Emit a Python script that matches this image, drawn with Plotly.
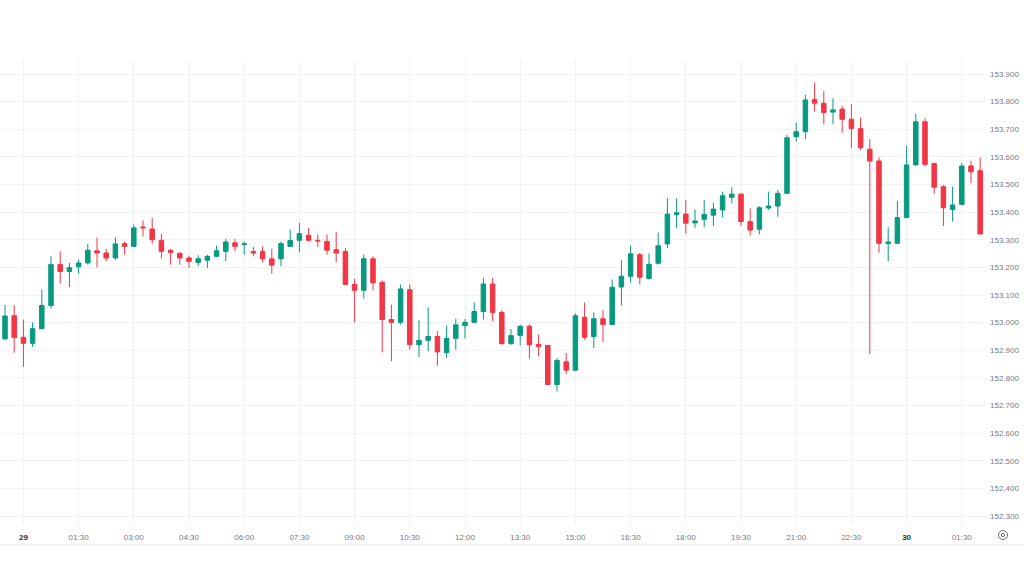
import pandas as pd
import plotly.graph_objects as go

# ---- data (15-minute candles, USD/JPY-like) ----
start_time = "2024-10-28 23:30"
bar_minutes = 15

opens = [152.941, 153.025, 152.947, 152.925, 152.978, 153.062, 153.210, 153.185, 153.202, 153.216,
         153.260, 153.252, 153.234, 153.286, 153.276, 153.346, 153.339, 153.298, 153.262, 153.251,
         153.234, 153.218, 153.226, 153.240, 153.258, 153.289, 153.283, 153.257, 153.257, 153.231,
         153.231, 153.276, 153.298, 153.316, 153.298, 153.294, 153.264, 153.258, 153.138, 153.117,
         153.231, 153.146, 153.011, 153.001, 153.119, 152.920, 152.936, 152.950, 152.892, 152.943,
         152.989, 153.001, 153.040, 153.140, 153.037, 152.924, 152.954, 152.987, 152.921, 152.917,
         152.776, 152.858, 152.828, 153.019, 152.950, 153.014, 152.993, 153.129, 153.168, 153.246,
         153.160, 153.215, 153.285, 153.391, 153.393, 153.361, 153.374, 153.389, 153.408, 153.454,
         153.465, 153.366, 153.338, 153.415, 153.422, 153.468, 153.673, 153.691, 153.808, 153.794,
         153.762, 153.773, 153.736, 153.703, 153.628, 153.585, 153.286, 153.287, 153.380, 153.571,
         153.727, 153.576, 153.492, 153.410, 153.428, 153.567, 153.550]
highs = [153.064, 153.063, 153.011, 153.001, 153.119, 153.240, 153.258, 153.216, 153.228, 153.285,
         153.307, 153.267, 153.309, 153.294, 153.355, 153.370, 153.379, 153.321, 153.267, 153.254,
         153.243, 153.244, 153.246, 153.279, 153.303, 153.303, 153.294, 153.274, 153.276, 153.268,
         153.294, 153.337, 153.361, 153.343, 153.319, 153.319, 153.328, 153.270, 153.159, 153.246,
         153.240, 153.153, 153.065, 153.138, 153.138, 153.008, 153.055, 152.969, 152.989, 153.014,
         153.013, 153.073, 153.162, 153.162, 153.045, 152.977, 152.992, 152.993, 152.957, 152.920,
         152.872, 152.890, 153.033, 153.073, 153.037, 153.045, 153.156, 153.226, 153.279, 153.252,
         153.250, 153.326, 153.450, 153.450, 153.444, 153.410, 153.444, 153.434, 153.474, 153.490,
         153.468, 153.414, 153.422, 153.474, 153.480, 153.679, 153.724, 153.824, 153.869, 153.838,
         153.812, 153.784, 153.790, 153.743, 153.664, 153.598, 153.345, 153.441, 153.640, 153.755,
         153.740, 153.578, 153.498, 153.492, 153.577, 153.586, 153.598]
lows = [152.938, 152.891, 152.840, 152.912, 152.976, 153.051, 153.141, 153.129, 153.177, 153.210,
        153.200, 153.222, 153.228, 153.246, 153.274, 153.312, 153.285, 153.231, 153.210, 153.210,
        153.198, 153.204, 153.198, 153.238, 153.222, 153.258, 153.246, 153.240, 153.218, 153.177,
        153.204, 153.274, 153.254, 153.294, 153.274, 153.246, 153.219, 153.136, 153.001, 153.086,
        153.117, 152.892, 152.860, 152.993, 152.902, 152.876, 152.896, 152.844, 152.872, 152.902,
        152.943, 153.000, 153.011, 153.005, 152.920, 152.920, 152.917, 152.869, 152.878, 152.776,
        152.751, 152.813, 152.826, 152.938, 152.908, 152.929, 152.991, 153.062, 153.144, 153.138,
        153.155, 153.210, 153.270, 153.343, 153.321, 153.343, 153.345, 153.350, 153.381, 153.432,
        153.350, 153.315, 153.320, 153.408, 153.383, 153.466, 153.655, 153.664, 153.764, 153.718,
        153.718, 153.687, 153.631, 153.625, 152.886, 153.253, 153.222, 153.285, 153.378, 153.569,
        153.567, 153.466, 153.350, 153.366, 153.426, 153.504, 153.319]
closes = [153.024, 152.946, 152.925, 152.978, 153.062, 153.210, 153.185, 153.199, 153.216, 153.262,
          153.252, 153.234, 153.285, 153.276, 153.343, 153.343, 153.300, 153.258, 153.254, 153.234,
          153.222, 153.231, 153.240, 153.260, 153.292, 153.276, 153.285, 153.252, 153.231, 153.208,
          153.286, 153.297, 153.322, 153.298, 153.296, 153.262, 153.252, 153.138, 153.117, 153.231,
          153.144, 153.011, 153.001, 153.122, 152.920, 152.936, 152.950, 152.894, 152.943, 152.992,
          153.001, 153.040, 153.140, 153.037, 152.924, 152.953, 152.987, 152.920, 152.914, 152.776,
          152.863, 152.828, 153.025, 152.947, 153.014, 152.993, 153.128, 153.168, 153.249, 153.164,
          153.211, 153.278, 153.393, 153.398, 153.360, 153.368, 153.392, 153.411, 153.459, 153.465,
          153.366, 153.335, 153.416, 153.422, 153.468, 153.669, 153.691, 153.806, 153.794, 153.761,
          153.770, 153.736, 153.703, 153.633, 153.585, 153.287, 153.292, 153.380, 153.571, 153.727,
          153.573, 153.490, 153.416, 153.426, 153.567, 153.546, 153.321]

tick_times = ["2024-10-29 00:00", "2024-10-29 01:30", "2024-10-29 03:00", "2024-10-29 04:30",
              "2024-10-29 06:00", "2024-10-29 07:30", "2024-10-29 09:00", "2024-10-29 10:30",
              "2024-10-29 12:00", "2024-10-29 13:30", "2024-10-29 15:00", "2024-10-29 16:30",
              "2024-10-29 18:00", "2024-10-29 19:30", "2024-10-29 21:00", "2024-10-29 22:30",
              "2024-10-30 00:00", "2024-10-30 01:30"]
tick_labels = ["29", "01:30", "03:00", "04:30", "06:00", "07:30", "09:00", "10:30", "12:00",
               "13:30", "15:00", "16:30", "18:00", "19:30", "21:00", "22:30", "30", "01:30"]
price_ticks = [152.3, 152.4, 152.5, 152.6, 152.7, 152.8, 152.9, 153.0, 153.1, 153.2,
               153.3, 153.4, 153.5, 153.6, 153.7, 153.8, 153.9]

times = pd.date_range(start=start_time, periods=len(opens), freq=f"{bar_minutes}min")

# ---- layout constants ----
W, H = 1024, 576
M_L, M_R, M_T, M_B = 0, 39, 60, 51
plot_w = W - M_L - M_R
plot_h = H - M_T - M_B
px_per_bar = 9.2
first_bar_px = 5.0
px_per_price = 276.25
y_ref_px, y_ref_price = 74.0, 153.9  # pixel row of a price (screen coordinates)

x_min = times[0] - pd.Timedelta(minutes=bar_minutes * first_bar_px / px_per_bar)
x_max = x_min + pd.Timedelta(minutes=bar_minutes * plot_w / px_per_bar)
y_max = y_ref_price + (y_ref_px - M_T) / px_per_price
y_min = y_max - plot_h / px_per_price

GREEN = "#089981"
RED = "#f23645"
GRID = "#f0f2f5"
TXT = "#787b86"

ticktext = []
for t in tick_labels:
    if ":" in t:
        ticktext.append(t)
    else:
        ticktext.append(f"<span style='color:#2a2e39'><b>{t}</b></span>")

fig = go.Figure(go.Candlestick(
    x=times, open=opens, high=highs, low=lows, close=closes,
    increasing=dict(line=dict(color=GREEN, width=1), fillcolor=GREEN),
    decreasing=dict(line=dict(color=RED, width=1), fillcolor=RED),
    whiskerwidth=0,
    showlegend=False,
    hoverinfo="skip",
))

fig.update_layout(
    width=W, height=H,
    margin=dict(l=M_L, r=M_R, t=M_T, b=M_B, pad=0),
    paper_bgcolor="white", plot_bgcolor="white",
    font=dict(family="Liberation Sans, Arial, sans-serif", size=8, color=TXT),
    showlegend=False,
    xaxis=dict(
        range=[x_min, x_max], rangeslider=dict(visible=False),
        tickvals=pd.to_datetime(tick_times), ticktext=ticktext,
        showgrid=True, gridcolor=GRID, gridwidth=1,
        zeroline=False, showline=False, ticks="",
        ticklabelstandoff=6, fixedrange=True,
    ),
    yaxis=dict(
        range=[y_min, y_max], side="right",
        tickvals=price_ticks, tickformat=".3f",
        showgrid=True, gridcolor=GRID, gridwidth=1,
        zeroline=False, showline=False, ticks="",
        ticklabelstandoff=4, fixedrange=True,
    ),
)

# bottom border of the time scale
bottom_y = -(545 - (H - M_B)) / plot_h
fig.add_shape(type="line", xref="paper", yref="paper", x0=-0.01, x1=(W) / plot_w,
              y0=bottom_y, y1=bottom_y, line=dict(color="#e0e3eb", width=1))

# settings icon (circle with dot) in the corner
icon_x = 1003 / plot_w
icon_y = -(535 - (H - M_B)) / plot_h
fig.add_shape(type="circle", xref="paper", yref="paper", xsizemode="pixel", ysizemode="pixel",
              xanchor=icon_x, yanchor=icon_y, x0=-4.5, x1=4.5, y0=-4.5, y1=4.5,
              line=dict(color="#6a6d78", width=1))
fig.add_shape(type="circle", xref="paper", yref="paper", xsizemode="pixel", ysizemode="pixel",
              xanchor=icon_x, yanchor=icon_y, x0=-1.6, x1=1.6, y0=-1.6, y1=1.6,
              line=dict(color="#6a6d78", width=1))

fig.write_html("out.html")
